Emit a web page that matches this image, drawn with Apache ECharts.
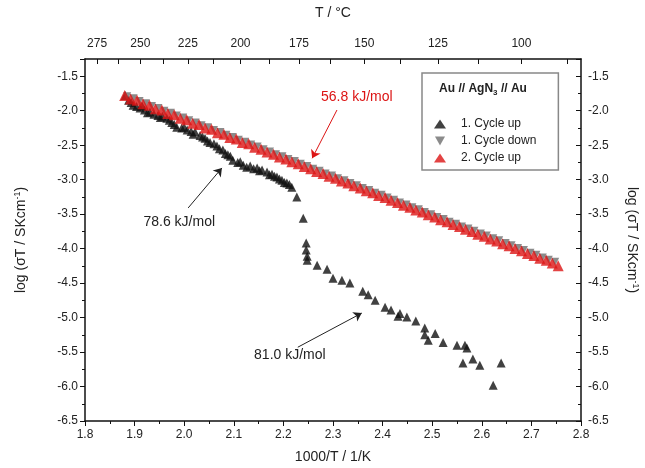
<!DOCTYPE html>
<html>
<head>
<meta charset="utf-8">
<title>AgN3 conductivity</title>
<script src="https://cdn.jsdelivr.net/npm/echarts@6/dist/echarts.min.js"></script>
<style>
  html, body { margin: 0; padding: 0; background: #fff; }
  #chart { width: 645px; height: 468px; }
</style>
<script>
// 1. Cycle up (black)
var upX = [1.881, 1.888, 1.897, 1.904, 1.911, 1.920, 1.931, 1.939, 1.947, 1.956, 1.965, 1.975, 1.985, 1.995, 2.006, 2.014, 2.022, 2.032, 2.042, 2.052, 2.060, 2.066, 2.078, 2.088, 2.098, 2.108, 2.119, 2.133, 2.147, 2.157, 2.167, 2.177, 2.187, 2.197, 2.207, 2.217,
           1.893, 1.915, 1.926, 1.952, 1.970, 1.980, 2.000, 2.018, 2.037, 2.047, 2.071, 2.083, 2.093, 2.113, 2.126, 2.140, 2.152, 2.172, 2.182, 2.192, 2.202, 2.212,
           2.227, 2.240, 2.246, 2.246, 2.248, 2.248, 2.268, 2.288, 2.300, 2.318, 2.334, 2.360, 2.371, 2.385, 2.405, 2.417, 2.431, 2.435, 2.449, 2.467, 2.485, 2.485, 2.492, 2.506, 2.522, 2.550, 2.566, 2.570, 2.562, 2.582, 2.596, 2.639, 2.623];
var upY = [-1.78, -1.85, -1.92, -1.94, -1.96, -1.99, -2.02, -2.05, -2.07, -2.08, -2.11, -2.17, -2.24, -2.25, -2.28, -2.30, -2.31, -2.36, -2.40, -2.46, -2.48, -2.51, -2.57, -2.64, -2.72, -2.75, -2.79, -2.80, -2.83, -2.86, -2.89, -2.92, -2.96, -3.01, -3.05, -3.11,
           -1.88, -1.93, -2.03, -2.10, -2.14, -2.20, -2.24, -2.34, -2.38, -2.44, -2.55, -2.62, -2.66, -2.74, -2.82, -2.84, -2.87, -2.93, -2.95, -2.99, -3.04, -3.07,
           -3.25, -3.56, -3.92, -4.02, -4.11, -4.17, -4.24, -4.30, -4.43, -4.46, -4.50, -4.62, -4.67, -4.75, -4.85, -4.89, -4.98, -4.94, -4.99, -5.05, -5.15, -5.25, -5.33, -5.23, -5.36, -5.40, -5.40, -5.44, -5.66, -5.60, -5.69, -5.66, -5.98];

// 1. Cycle down (grey)
var downX = [1.885, 1.898, 1.910, 1.923, 1.935, 1.948, 1.960, 1.973, 1.985, 1.998, 2.010, 2.023, 2.035, 2.048, 2.060, 2.073, 2.085, 2.098, 2.110, 2.123, 2.135, 2.148, 2.160, 2.173, 2.185, 2.198, 2.210, 2.223, 2.235, 2.248, 2.260, 2.273, 2.285, 2.298, 2.310,
             2.323, 2.335, 2.348, 2.360, 2.373, 2.385, 2.398, 2.410, 2.423, 2.435, 2.448, 2.460, 2.473, 2.485, 2.498, 2.510, 2.523, 2.535, 2.548, 2.560, 2.573, 2.585, 2.598, 2.610, 2.623, 2.635, 2.648, 2.660, 2.673, 2.685, 2.698, 2.710, 2.723, 2.735, 2.748];
var downY = [-1.79, -1.82, -1.86, -1.89, -1.93, -1.96, -2.00, -2.03, -2.07, -2.10, -2.14, -2.17, -2.21, -2.24, -2.28, -2.31, -2.35, -2.38, -2.42, -2.45, -2.49, -2.52, -2.56, -2.59, -2.63, -2.66, -2.70, -2.73, -2.77, -2.80, -2.84, -2.87, -2.91, -2.94, -2.98,
             -3.01, -3.05, -3.08, -3.12, -3.15, -3.19, -3.22, -3.26, -3.29, -3.33, -3.36, -3.40, -3.43, -3.47, -3.50, -3.54, -3.57, -3.61, -3.64, -3.68, -3.71, -3.74, -3.78, -3.81, -3.85, -3.88, -3.92, -3.95, -3.99, -4.02, -4.06, -4.09, -4.13, -4.16, -4.19];

// 2. Cycle up (red)
var up2X = [1.880, 1.892, 1.905, 1.917, 1.930, 1.942, 1.955, 1.967, 1.980, 1.992, 2.005, 2.017, 2.030, 2.042, 2.055, 2.067, 2.080, 2.092, 2.105, 2.117, 2.130, 2.142, 2.155, 2.167, 2.180, 2.192, 2.205, 2.217, 2.230, 2.242, 2.255, 2.267, 2.280, 2.292, 2.305,
            2.317, 2.330, 2.342, 2.355, 2.367, 2.380, 2.392, 2.405, 2.417, 2.430, 2.442, 2.455, 2.467, 2.480, 2.492, 2.505, 2.517, 2.530, 2.542, 2.555, 2.567, 2.580, 2.592, 2.605, 2.617, 2.630, 2.642, 2.655, 2.667, 2.680, 2.692, 2.705, 2.717, 2.730, 2.742, 2.754];
var up2Y = [-1.78, -1.83, -1.85, -1.90, -1.92, -1.97, -1.99, -2.04, -2.06, -2.11, -2.13, -2.18, -2.20, -2.25, -2.27, -2.32, -2.34, -2.39, -2.41, -2.46, -2.48, -2.53, -2.56, -2.60, -2.63, -2.67, -2.70, -2.74, -2.77, -2.81, -2.84, -2.88, -2.91, -2.95, -2.98,
            -3.02, -3.05, -3.09, -3.12, -3.16, -3.19, -3.23, -3.26, -3.30, -3.33, -3.37, -3.40, -3.44, -3.47, -3.51, -3.54, -3.58, -3.61, -3.65, -3.68, -3.72, -3.75, -3.79, -3.82, -3.86, -3.89, -3.93, -3.96, -4.00, -4.03, -4.07, -4.10, -4.14, -4.17, -4.21, -4.25];

// top axis: temperature in °C
var topLabelsC = [275, 250, 225, 200, 175, 150, 125, 100];
var topTicksC = [275, 262.5, 250, 237.5, 225, 212.5, 200, 187.5, 175, 162.5, 150, 137.5, 125, 112.5, 100, 87.5];

function zip(xs, ys) {
  var out = [];
  for (var i = 0; i < xs.length; i++) out.push([xs[i], ys[i]]);
  return out;
}
function toInvK(c) { return 1000 / (c + 273.15); }

function init() {
  var chart = echarts.init(document.getElementById('chart'), null, { renderer: 'canvas' });
  var font = 'Liberation Sans, Arial, sans-serif';
  var txt = '#222';
  var red = '#dc1414';
  var downIcon = 'path://M0,0 L10,0 L5,9 Z';
  var yName = 'log (σT / SKcm{sup|-1})';
  var nameRich = { sup: { fontSize: 9, verticalAlign: 'top', padding: [0, 0, 8, 0], color: txt, fontFamily: font } };

  var option = {
    animation: false,
    textStyle: { fontFamily: font },
    grid: { left: 85, right: 64, top: 59, bottom: 47, containLabel: false, outerBoundsMode: 'none' },
    legend: {
      left: 422, top: 73, z: 5,
      orient: 'vertical',
      padding: [45, 22, 6, 12],
      itemGap: 5,
      itemWidth: 12, itemHeight: 9,
      borderColor: '#888', borderWidth: 1.5,
      backgroundColor: '#fff',
      textStyle: { fontSize: 12, color: txt, fontFamily: font, padding: [0, 0, 0, 10] },
      data: [
        { name: '1. Cycle up' },
        { name: '1. Cycle down', icon: downIcon },
        { name: '2. Cycle up' }
      ]
    },
    graphic: [{
      type: 'text', x: 483, y: 89, z: 100,
      style: {
        text: 'Au // AgN{sub|3} // Au',
        align: 'center', verticalAlign: 'middle',
        fontSize: 12, fontWeight: 'bold', fontFamily: font, fill: txt,
        rich: { sub: { fontSize: 8, fontWeight: 'bold', fontFamily: font, fill: txt, padding: [7, 0, 0, 0] } }
      }
    }],
    xAxis: [{
      type: 'value', position: 'bottom', min: 1.8, max: 2.8, interval: 0.1,
      name: '1000/T / 1/K', nameLocation: 'middle', nameGap: 29,
      nameTextStyle: { fontSize: 14, color: txt },
      axisLine: { onZero: false, lineStyle: { color: '#111', width: 1.5 } },
      axisTick: { inside: false, length: 5, lineStyle: { color: '#111' } },
      minorTick: { show: true, splitNumber: 2, length: 3, lineStyle: { color: '#111' } },
      axisLabel: { fontSize: 12, color: txt, margin: 8, formatter: function (v) { return v.toFixed(1); } },
      splitLine: { show: false }
    }, {
      type: 'value', position: 'top', min: 1.8, max: 2.8,
      name: 'T / °C', nameLocation: 'middle', nameGap: 39,
      nameTextStyle: { fontSize: 14, color: txt },
      axisLine: { onZero: false, lineStyle: { color: '#111', width: 1.5 } },
      axisTick: { inside: true, length: 5, lineStyle: { color: '#111' }, customValues: topTicksC.map(toInvK) },
      axisLabel: {
        fontSize: 12, color: txt, margin: 9,
        customValues: topLabelsC.map(toInvK),
        formatter: function (v) { return String(Math.round(1000 / v - 273.15)); }
      },
      splitLine: { show: false }
    }],
    yAxis: [{
      type: 'value', position: 'left', min: -6.5, max: -1.25, interval: 0.5,
      name: yName, nameLocation: 'middle', nameGap: 55,
      nameTextStyle: { fontSize: 14, color: txt, rich: nameRich },
      axisLine: { onZero: false, lineStyle: { color: '#111', width: 1.5 } },
      axisTick: { inside: false, length: 5, lineStyle: { color: '#111' } },
      minorTick: { show: true, splitNumber: 2, length: 3, lineStyle: { color: '#111' } },
      axisLabel: { fontSize: 12, color: txt, margin: 7, showMaxLabel: false, formatter: function (v) { return v.toFixed(1); } },
      splitLine: { show: false }
    }, {
      type: 'value', position: 'right', min: -6.5, max: -1.25, interval: 0.5,
      name: yName, nameLocation: 'middle', nameGap: 42, nameRotate: -90,
      nameTextStyle: { fontSize: 14, color: txt, rich: nameRich },
      axisLine: { onZero: false, lineStyle: { color: '#111', width: 1.5 } },
      axisTick: { inside: true, length: 5, lineStyle: { color: '#111' } },
      minorTick: { show: true, splitNumber: 2, length: 3, lineStyle: { color: '#111' } },
      axisLabel: { fontSize: 12, color: txt, margin: 7, showMaxLabel: false, formatter: function (v) { return v.toFixed(1); } },
      splitLine: { show: false }
    }],
    series: [{
      name: '1. Cycle up', type: 'scatter', symbol: 'triangle', symbolSize: 9,
      itemStyle: { color: '#111' },
      data: zip(upX, upY),
      markLine: {
        silent: true, symbol: ['none', 'arrow'], symbolSize: 8,
        lineStyle: { color: '#222', width: 1, type: 'solid' }, label: { show: false },
        data: [
          [{ coord: [2.008, -3.41] }, { coord: [2.076, -2.83] }],
          [{ coord: [2.229, -5.43] }, { coord: [2.358, -4.935] }]
        ]
      },
      markPoint: {
        silent: true, symbol: 'circle', symbolSize: 1, itemStyle: { color: 'rgba(0,0,0,0)' },
        label: { show: true, position: 'inside', formatter: '{b}', fontSize: 14, color: txt },
        data: [
          { name: '78.6 kJ/mol', coord: [1.99, -3.62] },
          { name: '81.0 kJ/mol', coord: [2.213, -5.54] }
        ]
      }
    }, {
      name: '1. Cycle down', type: 'scatter', symbol: 'triangle', symbolRotate: 180, symbolSize: 8,
      itemStyle: { color: '#6e6e6e' },
      data: zip(downX, downY)
    }, {
      name: '2. Cycle up', type: 'scatter', symbol: 'triangle', symbolSize: 11,
      itemStyle: { color: red },
      data: zip(up2X, up2Y),
      markLine: {
        silent: true, symbol: ['none', 'arrow'], symbolSize: 8,
        lineStyle: { color: red, width: 1, type: 'solid' }, label: { show: false },
        data: [[{ coord: [2.308, -1.99] }, { coord: [2.258, -2.69] }]]
      },
      markPoint: {
        silent: true, symbol: 'circle', symbolSize: 1, itemStyle: { color: 'rgba(0,0,0,0)' },
        label: { show: true, position: 'inside', formatter: '{b}', fontSize: 14, color: red },
        data: [{ name: '56.8 kJ/mol', coord: [2.348, -1.80] }]
      }
    }]
  };
  chart.setOption(option);
}
</script>
</head>
<body onload="init()">
  <div id="chart"></div>
</body>
</html>
